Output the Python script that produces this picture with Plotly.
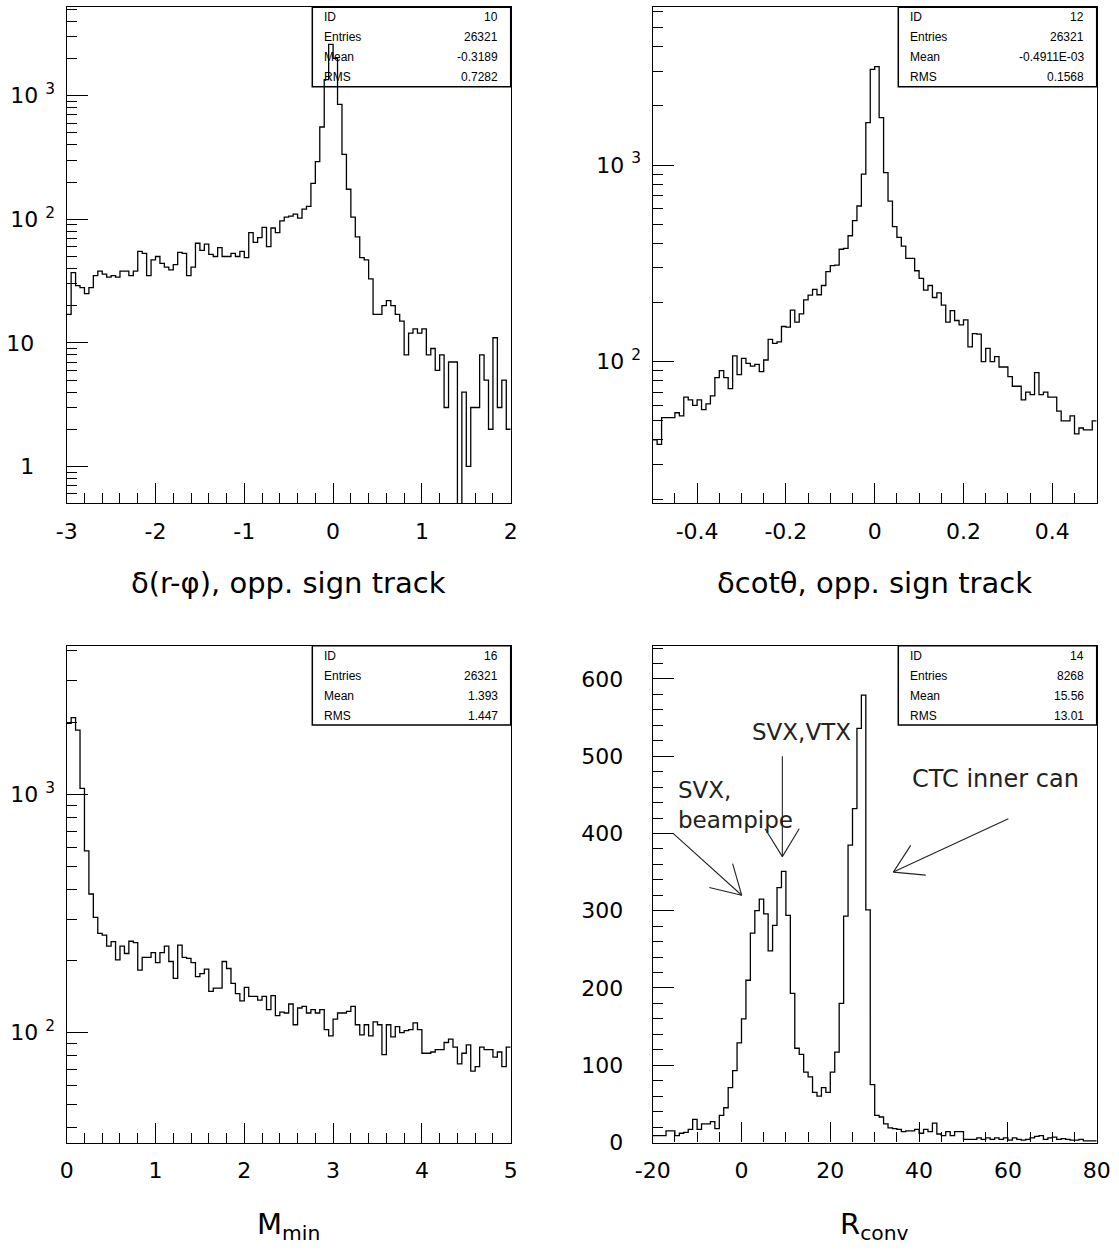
import math
import plotly.graph_objects as go
from plotly.subplots import make_subplots

W, H = 1119, 1253

# ---------------- data (bin contents) ----------------
# delta(r-phi), opposite sign track: 100 bins on [-3, 2]
drphi_range = (-3.0, 2.0)
drphi_counts = [17, 37, 29, 28, 25, 28, 35, 38, 36, 34,
                35, 34, 38, 38, 35, 38, 55, 53, 35, 47,
                50, 44, 41, 39, 43, 54, 53, 35, 41, 64,
                56, 63, 52, 50, 59, 50, 50, 53, 50, 55,
                49, 78, 65, 71, 86, 60, 85, 78, 97, 104,
                106, 110, 102, 121, 127, 195, 293, 558, 1350, 2600,
                2000, 851, 335, 175, 104, 72, 49, 47, 33, 17,
                17, 20, 22, 20, 17, 15, 8, 12, 13, 12,
                13, 8, 9, 6, 8, 3, 7, 7, 0, 4,
                1, 3, 3, 8, 5, 2, 11, 3, 5, 2]

# delta cot(theta), opposite sign track: 100 bins on [-0.5, 0.5]
dcot_range = (-0.5, 0.5)
dcot_counts = [40, 38, 52, 52, 52, 55, 53, 66, 64, 60,
               64, 57, 61, 67, 83, 90, 83, 73, 107, 86,
               104, 98, 95, 97, 89, 102, 130, 124, 126, 151,
               150, 183, 159, 175, 206, 218, 233, 219, 244, 287,
               308, 310, 373, 377, 437, 521, 619, 900, 1642, 3064,
               3162, 1740, 914, 656, 486, 429, 387, 335, 335, 290,
               265, 231, 244, 212, 224, 194, 159, 182, 162, 154,
               163, 119, 139, 138, 100, 117, 100, 106, 94, 94,
               84, 75, 75, 64, 70, 68, 88, 68, 70, 66,
               66, 56, 50, 50, 53, 43, 46, 45, 45, 50]

# M_min: 100 bins on [0, 5]
mmin_range = (0.0, 5.0)
mmin_counts = [1986, 2098, 1862, 1060, 580, 382, 305, 261, 257, 231,
               241, 202, 231, 215, 242, 239, 183, 207, 207, 217,
               197, 217, 231, 199, 169, 233, 207, 205, 197, 172,
               177, 185, 149, 154, 154, 199, 186, 161, 146, 136,
               155, 142, 142, 137, 142, 125, 143, 118, 122, 121,
               132, 108, 127, 129, 121, 125, 121, 125, 103, 97,
               114, 121, 121, 123, 129, 108, 98, 108, 97, 111,
               108, 81, 108, 96, 106, 100, 102, 103, 110, 103,
               82, 82, 83, 85, 85, 91, 94, 87, 74, 82,
               89, 69, 72, 87, 85, 85, 79, 83, 72, 87]

# R_conv: 100 bins on [-20, 80]
rconv_range = (-20.0, 80.0)
rconv_counts = [9, 9, 9, 15, 15, 9, 12, 13, 17, 30,
                17, 24, 24, 27, 18, 35, 45, 71, 93, 129,
                160, 210, 271, 300, 315, 296, 248, 281, 330, 351,
                294, 193, 122, 114, 91, 85, 65, 60, 71, 65,
                91, 117, 180, 293, 385, 432, 536, 579, 301, 75,
                35, 33, 24, 19, 18, 17, 14, 15, 15, 17,
                12, 17, 14, 25, 11, 9, 14, 9, 14, 14,
                4, 4, 4, 6, 4, 6, 4, 6, 4, 6,
                3, 6, 4, 3, 4, 6, 8, 9, 4, 6,
                7, 4, 5, 4, 3, 3, 4, 2, 2, 2]

# statistics boxes
stats_labels = ["ID", "Entries", "Mean", "RMS"]
drphi_stats = ["10", "26321", "-0.3189", "0.7282"]
dcot_stats = ["12", "26321", "-0.4911E-03", "0.1568"]
mmin_stats = ["16", "26321", "1.393", "1.447"]
rconv_stats = ["14", "8268", "15.56", "13.01"]

# axis titles
drphi_title = "δ(r-φ), opp. sign track"
dcot_title = "δcotθ, opp. sign track"
mmin_title = "M<sub>min</sub>"
rconv_title = "R<sub>conv</sub>"

# tick values / labels
drphi_xticks = [-3, -2, -1, 0, 1, 2]
dcot_xticks = [-0.4, -0.2, 0, 0.2, 0.4]
dcot_xticktext = ["-0.4", "-0.2", "0", "0.2", "0.4"]
mmin_xticks = [0, 1, 2, 3, 4, 5]
rconv_xticks = [-20, 0, 20, 40, 60, 80]
rconv_yticks = [0, 100, 200, 300, 400, 500, 600]

NB = "\u00a0"
def log_label(v):
    e = int(round(math.log10(v)))
    if e == 0:
        return "1" + NB * 3
    if e == 1:
        return "10" + NB * 3
    return "10" + NB + "<sup>%d</sup>" % e

# R_conv annotations (text, x, y, anchor) and arrow segments in data units
rconv_notes = [("SVX,VTX", 13.5, 531, "center"),
               ("SVX,<br>beampipe", -14.8, 437, "left"),
               ("CTC inner can", 38.0, 470, "left")]
rconv_arrows = [
    [(9.2, 500), (9.2, 370)], [(5.3, 406), (9.2, 370)], [(13.0, 406), (9.2, 370)],
    [(-15.4, 400), (0.05, 320)], [(-2.0, 361), (0.05, 320)], [(-7.25, 330), (0.05, 320)],
    [(60.1, 419), (34.2, 350)], [(38.1, 384.5), (34.2, 350)], [(41.5, 346), (34.2, 350)],
]

# ---------------- figure ----------------
fig = make_subplots(rows=2, cols=2)

# panel pixel boxes (left, right, top, bottom)
boxes = [(66.7, 510.7, 7.3, 503.3), (652.7, 1096.7, 7.3, 503.3),
         (66.7, 510.7, 645.7, 1142.7), (652.7, 1096.7, 645.7, 1142.5)]

panels = [
    dict(counts=drphi_counts, rng=drphi_range, log=True, yr=(-0.298, 3.715),
         xt=drphi_xticks, xtt=[str(v) for v in drphi_xticks], xminor=0.2,
         stats=drphi_stats, title=drphi_title),
    dict(counts=dcot_counts, rng=dcot_range, log=True, yr=(1.28, 3.802),
         xt=dcot_xticks, xtt=dcot_xticktext, xminor=0.05,
         stats=dcot_stats, title=dcot_title),
    dict(counts=mmin_counts, rng=mmin_range, log=True, yr=(1.5385, 3.624),
         xt=mmin_xticks, xtt=[str(v) for v in mmin_xticks], xminor=0.2,
         stats=mmin_stats, title=mmin_title),
    dict(counts=rconv_counts, rng=rconv_range, log=False, yr=(0, 643),
         xt=rconv_xticks, xtt=[str(v) for v in rconv_xticks], xminor=5,
         stats=rconv_stats, title=rconv_title),
]

TICKFONT = dict(family="DejaVu Sans", size=22, color="black")
STATFONT = dict(family="Liberation Sans, Arial, sans-serif", size=12, color="black")

annotations = []
shapes = []

for i, (p, b) in enumerate(zip(panels, boxes)):
    r, c = i // 2 + 1, i % 2 + 1
    sfx = "" if i == 0 else str(i + 1)
    lo, hi = p["rng"]
    n = len(p["counts"])
    step = (hi - lo) / n
    edges = [lo + k * step for k in range(n + 1)]
    ys = list(p["counts"]) + [p["counts"][-1]]
    if p["log"]:
        # empty bins drawn down past the axis floor, as in the original
        ys = [v if v > 0 else 1e-3 for v in ys]
    fig.add_trace(go.Scatter(x=edges, y=ys, mode="lines",
                             line=dict(shape="hv", color="black", width=1.3),
                             hoverinfo="skip", showlegend=False), row=r, col=c)

    L, R, T, B = b
    xdom = [L / W, R / W]
    ydom = [1 - B / H, 1 - T / H]

    nminor = int(round((hi - lo) / p["xminor"]))
    xminor_vals = [lo + k * p["xminor"] for k in range(nminor + 1)]
    fig.update_xaxes(domain=xdom, range=[lo, hi], tickmode="array",
                     tickvals=p["xt"], ticktext=p["xtt"],
                     ticks="inside", ticklen=20, tickwidth=1, tickcolor="black",
                     minor=dict(ticks="inside", ticklen=10, tickwidth=1, tickcolor="black",
                                tickmode="array", tickvals=xminor_vals),
                     showline=True, linecolor="black", linewidth=1.3, mirror=True,
                     showgrid=False, zeroline=False, tickfont=TICKFONT, automargin=False,
                     ticklabelstandoff=8, row=r, col=c)
    if p["log"]:
        y0, y1 = p["yr"]
        majors = [10 ** k for k in range(0, 4) if y0 <= k <= y1]
        minors = []
        for k in range(-1, 4):
            for m in range(2, 10):
                v = m * 10 ** k
                if y0 <= math.log10(v) <= y1:
                    minors.append(v)
        fig.update_yaxes(domain=ydom, type="log", range=[y0, y1], tickmode="array",
                         tickvals=majors, ticktext=[log_label(v) for v in majors],
                         ticks="inside", ticklen=21, tickwidth=1, tickcolor="black",
                         minor=dict(ticks="inside", ticklen=10, tickwidth=1, tickcolor="black",
                                    tickmode="array", tickvals=minors),
                         showline=True, linecolor="black", linewidth=1.3, mirror=True,
                         showgrid=False, zeroline=False, tickfont=TICKFONT, automargin=False,
                         ticklabelstandoff=6, row=r, col=c)
    else:
        fig.update_yaxes(domain=ydom, range=list(p["yr"]), tickmode="array",
                         tickvals=rconv_yticks, ticktext=[str(v) for v in rconv_yticks],
                         ticks="inside", ticklen=21, tickwidth=1, tickcolor="black",
                         minor=dict(ticks="inside", ticklen=10, tickwidth=1, tickcolor="black",
                                    tickmode="array", tickvals=list(range(0, 641, 20))),
                         showline=True, linecolor="black", linewidth=1.3, mirror=True,
                         showgrid=False, zeroline=False, tickfont=TICKFONT, automargin=False,
                         ticklabelstandoff=24, row=r, col=c)

    # statistics box
    ph = B - T
    pw = R - L
    xr, yr = "x%s domain" % sfx, "y%s domain" % sfx
    bx0 = 245.6 / pw
    shapes.append(dict(type="rect", xref=xr, yref=yr,
                       x0=bx0, x1=1, y0=1 - 79.4 / ph, y1=1,
                       line=dict(color="black", width=1.5), fillcolor="rgba(0,0,0,0)"))
    for j, (lab, val) in enumerate(zip(stats_labels, p["stats"])):
        yy = 1 - (10 + 20 * j) / ph
        annotations.append(dict(xref=xr, yref=yr, x=(245.6 + 10) / pw,
                                y=yy, text=lab, showarrow=False, xanchor="left",
                                yanchor="middle", font=STATFONT))
        annotations.append(dict(xref=xr, yref=yr, x=1 - 10.7 / pw, y=yy, text=val,
                                showarrow=False, xanchor="right", yanchor="middle",
                                font=STATFONT))

    # axis title under panel
    ty = 583 if r == 1 else 1226
    annotations.append(dict(xref="paper", yref="paper", x=(L + R) / 2 / W, y=1 - ty / H,
                            text=p["title"], showarrow=False, xanchor="center",
                            yanchor="middle",
                            font=dict(family="DejaVu Sans", size=29, color="black")))

# R_conv notes
for text, x, y, anc in rconv_notes:
    annotations.append(dict(xref="x4", yref="y4", x=x, y=y, text=text, showarrow=False,
                            xanchor=anc, yanchor="middle", align="left",
                            font=dict(family="DejaVu Sans", size=24 if "CTC" in text else 23,
                                      color="#222222")))
for seg in rconv_arrows:
    (xa, ya), (xb, yb) = seg
    shapes.append(dict(type="line", xref="x4", yref="y4", x0=xa, y0=ya, x1=xb, y1=yb,
                       line=dict(color="#222222", width=1.1)))

fig.update_layout(width=W, height=H, autosize=False,
                  margin=dict(l=0, r=0, t=0, b=0),
                  paper_bgcolor="white", plot_bgcolor="white",
                  showlegend=False, annotations=annotations, shapes=shapes)

fig.write_html("out.html", config={"displayModeBar": False},
               post_script="document.body.style.margin='0';")
